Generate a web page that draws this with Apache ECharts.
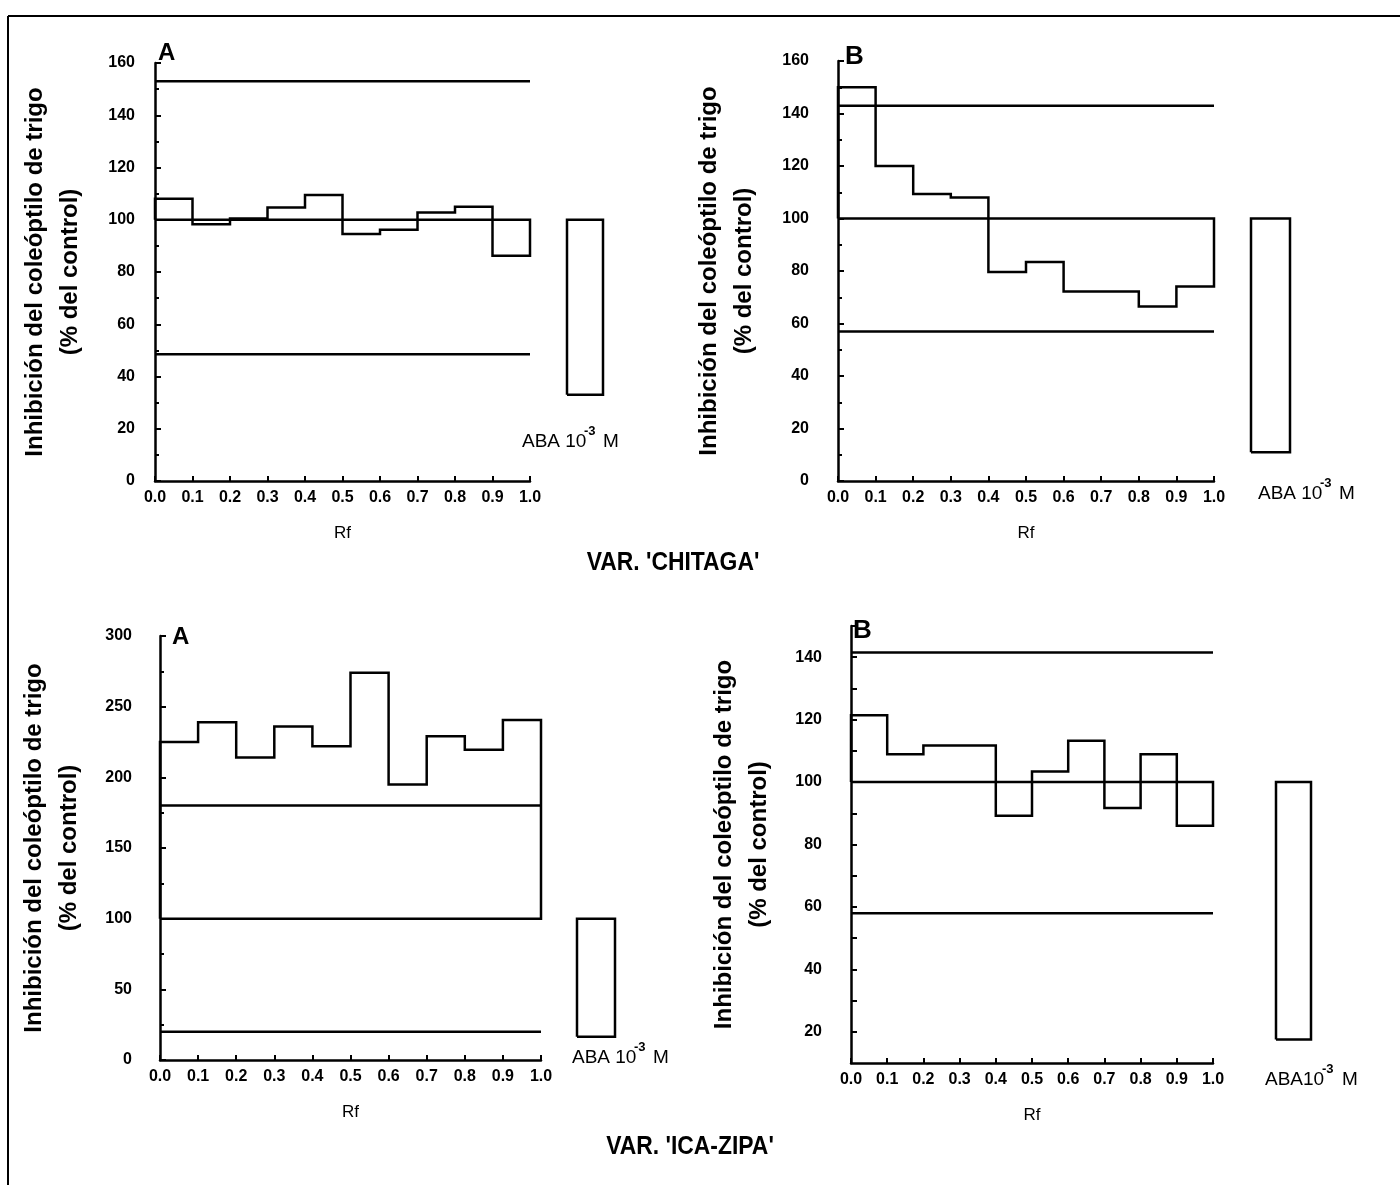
<!DOCTYPE html>
<html>
<head>
<meta charset="utf-8">
<script src="https://cdn.jsdelivr.net/npm/echarts@6/dist/echarts.min.js"></script>
<style>
html,body{margin:0;padding:0;background:#fff;}
#chart{width:1400px;height:1185px;}
</style>
</head>
<body>
<div id="chart"></div>
<script>
// ---------- data ----------
const rfEdges = [0.0, 0.1, 0.2, 0.3, 0.4, 0.5, 0.6, 0.7, 0.8, 0.9, 1.0];
const controlLevel = 100;

// VAR. 'CHITAGA' - A
const chitagaA_values = [108, 98.3, 100.5, 104.7, 109.5, 94.5, 96.2, 102.8, 105, 86.2];
const chitagaA_upper = 153;
const chitagaA_lower = 48.5;
const chitagaA_aba = 33;

// VAR. 'CHITAGA' - B
const chitagaB_values = [150, 120, 109.3, 108, 79.6, 83.4, 72.2, 72.2, 66.5, 74.1];
const chitagaB_upper = 143;
const chitagaB_lower = 57;
const chitagaB_aba = 11;

// VAR. 'ICA-ZIPA' - A
const icaA_values = [225, 239, 214, 236, 222, 274, 195, 229, 219.6, 240.5];
const icaA_upper = 180;
const icaA_lower = 20;
const icaA_aba = 16.5;

// VAR. 'ICA-ZIPA' - B
const icaB_values = [121.4, 108.9, 111.7, 111.7, 89.2, 103.4, 113.2, 91.7, 108.9, 86];
const icaB_upper = 141.5;
const icaB_lower = 58;
const icaB_aba = 17.5;

const yLabelsB2 = [20, 40, 60, 80, 100, 120, 140];
const yTicksB2 = [20, 30, 40, 50, 60, 70, 80, 90, 100, 110, 120, 130, 140, 150];

const yTitle = 'Inhibición del coleóptilo de trigo\n(% del control)';

// ---------- layout ----------
const SANS = '"Liberation Sans", Arial, sans-serif';
const LW = 2.5;

const panels = [
  {vals: chitagaA_values, up: chitagaA_upper, lo: chitagaA_lower, aba: chitagaA_aba,
   grid: {left: 155, top: 63, width: 375, height: 418}, yOff: 7,
   aba_grid: {left: 567, top: 63, width: 36, height: 418},
   y: {min: 0, max: 160, interval: 20}, nameGap: 60},
  {vals: chitagaB_values, up: chitagaB_upper, lo: chitagaB_lower, aba: chitagaB_aba,
   grid: {left: 838, top: 61, width: 376, height: 420}, yOff: 16,
   aba_grid: {left: 1251, top: 61, width: 39, height: 420},
   y: {min: 0, max: 160, interval: 20}, nameGap: 60},
  {vals: icaA_values, up: icaA_upper, lo: icaA_lower, aba: icaA_aba,
   grid: {left: 160, top: 636, width: 381, height: 424}, yOff: 15,
   aba_grid: {left: 577, top: 636, width: 38, height: 424},
   y: {min: 0, max: 300, interval: 50}, nameGap: 58},
  {vals: icaB_values, up: icaB_upper, lo: icaB_lower, aba: icaB_aba,
   grid: {left: 851, top: 626, width: 362, height: 437}, yOff: 16,
   aba_grid: {left: 1276, top: 626, width: 35, height: 437},
   y: {min: 10, max: 150, custom: true}, nameGap: 58}
];

const grids = [], xAxes = [], yAxes = [], series = [];

panels.forEach((p, i) => {
  const gi = grids.length;
  grids.push(p.grid);
  grids.push(p.aba_grid);

  xAxes.push({
    gridIndex: gi, type: 'value', min: 0, max: 1, interval: 0.1,
    name: 'Rf', nameLocation: 'middle', nameGap: 44,
    nameTextStyle: {fontFamily: SANS, fontSize: 17, color: '#000'},
    axisLine: {lineStyle: {color: '#000', width: LW}},
    axisTick: {inside: true, length: 5, lineStyle: {color: '#000', width: 2}},
    axisLabel: {fontFamily: SANS, fontWeight: 'bold', fontSize: 16, color: '#000', margin: 9,
                formatter: v => v.toFixed(1)},
    splitLine: {show: false}
  });
  xAxes.push({gridIndex: gi + 1, type: 'value', min: 0, max: 1, show: false});

  const ya = {
    gridIndex: gi, type: 'value', min: p.y.min, max: p.y.max, offset: p.yOff,
    name: yTitle, nameLocation: 'middle', nameGap: p.nameGap, nameRotate: 90,
    nameTextStyle: {fontFamily: SANS, fontWeight: 'bold', fontSize: 24, color: '#000', lineHeight: 35},
    axisLine: {show: true, lineStyle: {color: '#000', width: LW}},
    axisTick: {inside: true, length: 6, lineStyle: {color: '#000', width: 2}},
    axisLabel: {fontFamily: SANS, fontWeight: 'bold', fontSize: 16, color: '#000', margin: 13},
    splitLine: {show: false}
  };
  if (p.y.custom) {
    ya.axisLabel.customValues = yLabelsB2;
    ya.axisTick.customValues = yTicksB2;
  } else {
    ya.interval = p.y.interval;
    ya.minorTick = {show: true, splitNumber: 2, length: 4, lineStyle: {color: '#000', width: 2}};
  }
  yAxes.push(ya);
  yAxes.push({gridIndex: gi + 1, type: 'value', min: p.y.min, max: p.y.max, show: false});

  // step histogram outline closed onto the control level
  const poly = [[rfEdges[0], controlLevel]];
  p.vals.forEach((v, k) => {
    poly.push([rfEdges[k], v]);
    poly.push([rfEdges[k + 1], v]);
  });
  poly.push([rfEdges[rfEdges.length - 1], controlLevel]);
  poly.push([rfEdges[0], controlLevel]);

  const lineCommon = {type: 'line', xAxisIndex: gi, yAxisIndex: gi, symbol: 'none',
                      silent: true, animation: false, clip: false};
  series.push(Object.assign({}, lineCommon, {data: poly,
    lineStyle: {color: '#000', width: LW, join: 'miter'}}));
  series.push(Object.assign({}, lineCommon, {data: [[rfEdges[0], p.up], [rfEdges[10], p.up]],
    lineStyle: {color: '#000', width: LW}}));
  series.push(Object.assign({}, lineCommon, {data: [[rfEdges[0], p.lo], [rfEdges[10], p.lo]],
    lineStyle: {color: '#000', width: LW}}));

  // ABA 10^-3 M reference bar
  series.push({type: 'line', xAxisIndex: gi + 1, yAxisIndex: gi + 1, symbol: 'none', silent: true,
    animation: false, clip: false,
    data: [[0, p.aba], [0, controlLevel], [1, controlLevel], [1, p.aba], [0, p.aba]],
    lineStyle: {color: '#000', width: LW, join: 'miter'}});
});

function txt(x, y, s, size, opts, extra) {
  return Object.assign({type: 'text', x: x, y: y, silent: true,
    style: Object.assign({text: s, fontSize: size, fontFamily: SANS, fill: '#000',
      textAlign: 'left', textVerticalAlign: 'middle'}, opts || {})}, extra || {});
}
function abaLabel(x, y, base, sp) {
  return [
    txt(x, y, base, 19),
    txt(x + sp[0], y - 11, '-3', 13, {fontWeight: 'bold'}),
    txt(x + sp[1], y, 'M', 19)
  ];
}

const graphics = [
  {type: 'line', shape: {x1: 8, y1: 16, x2: 1400, y2: 16}, style: {stroke: '#000', lineWidth: 2}, silent: true},
  {type: 'line', shape: {x1: 8, y1: 16, x2: 8, y2: 1185}, style: {stroke: '#000', lineWidth: 2}, silent: true},
  txt(673, 563, "VAR. 'CHITAGA'", 26, {fontWeight: 'bold', textAlign: 'center'}, {scaleX: 0.88}),
  txt(690, 1147, "VAR. 'ICA-ZIPA'", 26, {fontWeight: 'bold', textAlign: 'center'}, {scaleX: 0.88}),
  txt(158, 53, 'A', 24, {fontWeight: 'bold'}),
  txt(845, 57, 'B', 26, {fontWeight: 'bold'}),
  txt(172, 637, 'A', 24, {fontWeight: 'bold'}),
  txt(853, 631, 'B', 26, {fontWeight: 'bold'})
].concat(abaLabel(522, 442, 'ABA 10', [62, 81]))
 .concat(abaLabel(1258, 494, 'ABA 10', [62, 81]))
 .concat(abaLabel(572, 1058, 'ABA 10', [62, 81]))
 .concat(abaLabel(1265, 1080, 'ABA10', [57, 77]));

const chart = echarts.init(document.getElementById('chart'), null, {renderer: 'canvas'});
chart.setOption({
  backgroundColor: '#fff',
  animation: false,
  grid: grids,
  xAxis: xAxes,
  yAxis: yAxes,
  series: series,
  graphic: graphics
});
</script>
</body>
</html>
